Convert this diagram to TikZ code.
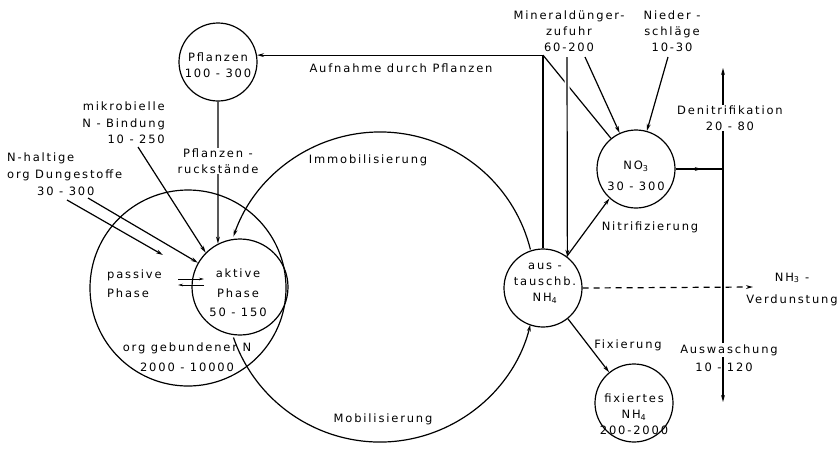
\documentclass[tikz,border=0pt]{standalone}
\usepackage{fontspec}
\setmainfont{DejaVu Sans}[LetterSpace=16]
\usetikzlibrary{arrows.meta,calc}
\begin{document}
\begin{tikzpicture}[x=1pt,y=-1pt,
  lbl/.style={font=\fontsize{11.5}{16}\selectfont, inner sep=1pt, align=center},
  pool/.style={circle, draw, line width=1.2pt, inner sep=0pt},
  ln/.style={line width=1.2pt},
  flow/.style={ln, -{Stealth[length=7pt,width=3.8pt]}},
  eq/.style={line width=0.9pt, -{Stealth[length=5pt,width=2.6pt]}}
]
\useasboundingbox (0,0) rectangle (840,448);
% pools
\node[pool, minimum size=78pt] (pfl) at (218,62) {};
\node[pool, minimum size=196pt] (org) at (188,288) {};
\node[pool, minimum size=96pt] (akt) at (240,287) {};
\node[pool, minimum size=78pt] (nh4) at (543,288) {};
\node[pool, minimum size=78pt] (no3) at (636,169) {};
\node[pool, minimum size=78pt] (fix) at (634,403) {};
% coordinates
\coordinate (m1) at (567,57);
\coordinate (m2) at (585,57);
\coordinate (nd) at (668,57);
\coordinate (junc) at (723,169);
\coordinate (dtop) at (723,68);
\coordinate (abot) at (723,402);
\coordinate (nh3e) at (753,287);
\coordinate (mk) at (138,147);
\coordinate (d1) at (67,200);
\coordinate (p1) at (163,255);
\coordinate (d2) at (88,198);
\coordinate (e1) at (178,279);
\coordinate (e2) at (204,279);
\coordinate (e3) at (204,285);
\coordinate (e4) at (178,285);
\coordinate (bc) at (380,287);
% connectors
\draw[ln] (no3) -- (nh4.north |- pfl.10);
\draw[flow] (nh4.north) |- (pfl.10);
\draw[flow, preaction={draw=white, line width=5pt, -, shorten >=25pt}] (m1) -- (nh4.52);
\draw[flow] (m2) -- (no3);
\draw[flow] (nd) -- (no3);
\draw[flow] (nh4.53) -- (no3.228);
\draw[flow] (nh4.-51) -- (fix.129);
\draw[ln] (no3.east) -- (junc);
\draw[flow] (no3.east) -- ($(no3.east)!0.55!(junc)$);
\draw[flow] (junc) -- (dtop);
\draw[flow] (junc) -- (abot);
\draw[ln, dash pattern=on 6pt off 5pt, -{Stealth[length=7pt,width=3.8pt]}] (nh4.east) -- (nh3e);
\draw[flow] (pfl.south) -- (akt.117);
\draw[flow] (mk) -- (akt.135);
\draw[flow] (d1) -- (p1);
\draw[flow] (d2) -- (akt.150);
\draw[eq] (e1) -- (e2);
\draw[eq] (e3) -- (e4);
\draw[flow] ([shift={(14:155pt)}]bc) arc[start angle=14, end angle=161, radius=155pt];
\draw[flow] ([shift={(199:155pt)}]bc) arc[start angle=199, end angle=346, radius=155pt];
% texts
\node[lbl] (pflt) at (218,65) {Pflanzen\\100 - 300};
\node[lbl, font=\fontsize{11.5}{19.5}\selectfont] (aktt) at (238,293) {aktive\\Phase\\50 - 150};
\node[lbl] (nh4t) at (545,283) {aus -\\tauschb.\\NH\textsubscript{4}};
\node[lbl, font=\fontsize{11.5}{21}\selectfont] (no3t) at (636,176) {NO\textsubscript{3}\\30 - 300};
\node[lbl] (fixt) at (634,414) {fixiertes\\NH\textsubscript{4}\\200-2000};
\node[lbl, anchor=west, align=left, font=\fontsize{11.5}{19}\selectfont] (pas) at (106,284) {passive\\Phase};
\node[lbl, font=\fontsize{11.5}{20}\selectfont] (orgt) at (187,357) {org gebundener N\\2000 - 10000};
\node[lbl] (auf) at (401,68) {Aufnahme durch Pflanzen};
\node[lbl] (imm) at (368,160) {Immobilisierung};
\node[lbl] (mob) at (383,419) {Mobilisierung};
\node[lbl] (min) at (569,31) {Mineraldünger-\\zufuhr\\60-200};
\node[lbl] (nied) at (672,31) {Nieder -\\schläge\\10-30};
\node[lbl, fill=white] (den) at (730,118) {Denitrifikation\\20 - 80};
\node[lbl, fill=white] (ausw) at (729,350) {Auswaschung};
\node[lbl] (ausz) at (724,367) {10 - 120};
\node[lbl, font=\fontsize{11.5}{22}\selectfont] (nh3) at (792,289) {NH\textsubscript{3} -\\Verdunstung};
\node[lbl] (nit) at (650,227) {Nitrifizierung};
\node[lbl] (fixl) at (628,345) {Fixierung};
\node[lbl, fill=white] (prs) at (218,161) {Pflanzen -\\ruckstände};
\node[lbl, align=right, anchor=east, font=\fontsize{11.5}{16.5}\selectfont] (mik) at (166,123) {mikrobielle\\N - Bindung\\10 - 250};
\node[lbl, align=left, anchor=west, font=\fontsize{11.5}{17}\selectfont] (dung) at (6,174) {N-haltige\\org Dungestoffe\\\hspace*{30pt}30 - 300};
\end{tikzpicture}
\end{document}
